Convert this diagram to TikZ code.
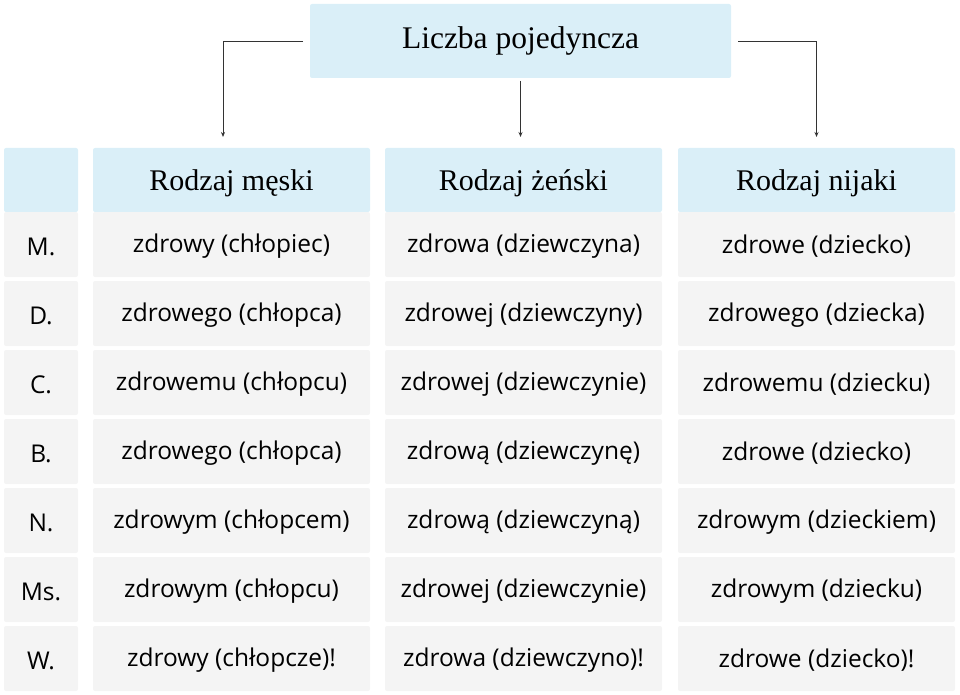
\documentclass[tikz,border=0pt]{standalone}
\usepackage{fontspec}
\setmainfont{Open Sans}
\newfontfamily\headfont{Liberation Serif}
\usetikzlibrary{arrows.meta}
\definecolor{hblue}{HTML}{DAEFF8}
\definecolor{cgray}{HTML}{F4F4F4}
\definecolor{lgray}{HTML}{333333}
\newcommand{\hdtext}[1]{\raisebox{-3.5pt}[\height][\depth]{#1}}
\newcommand{\rwtext}[1]{\raisebox{-2pt}[\height][\depth]{#1}}
\begin{document}
\begin{tikzpicture}[x=1pt,y=-1pt,
  box/.style={anchor=north west, rounded corners=2pt, inner sep=0pt, outer sep=0pt, align=center},
  hcell/.style={box, fill=hblue, font=\headfont\fontsize{30}{34}\selectfont},
  gcell/.style={box, fill=cgray, font=\fontsize{24.5}{28}\selectfont, text=black},
  conn/.style={draw=lgray, line width=0.9pt, -{Stealth[length=5pt,width=4pt]}}
]
\useasboundingbox (0,0) rectangle (960,695);
% title
\node[hcell, minimum width=421pt, minimum height=74pt, font=\headfont\fontsize{31.5}{34}\selectfont] (title) at (310,4) {Liczba pojedyncza};
% headers
\node[hcell, minimum width=74pt, minimum height=64pt] (h0) at (4,148) {};
\node[hcell, minimum width=277pt, minimum height=64pt] (h1) at (93,148) {\hdtext{Rodzaj męski}};
\node[hcell, minimum width=277pt, minimum height=64pt] (h2) at (385,148) {\hdtext{Rodzaj żeński}};
\node[hcell, minimum width=277pt, minimum height=64pt] (h3) at (678,148) {\hdtext{Rodzaj nijaki}};
% rows
\foreach \y/\c/\a/\b/\d [count=\i] in {
  212/M./zdrowy (chłopiec)/zdrowa (dziewczyna)/zdrowe (dziecko),
  281/D./zdrowego (chłopca)/zdrowej (dziewczyny)/zdrowego (dziecka),
  350/C./zdrowemu (chłopcu)/zdrowej (dziewczynie)/zdrowemu (dziecku),
  419/B./zdrowego (chłopca)/zdrową (dziewczynę)/zdrowe (dziecko),
  488/N./zdrowym (chłopcem)/zdrową (dziewczyną)/zdrowym (dzieckiem),
  557/Ms./zdrowym (chłopcu)/zdrowej (dziewczynie)/zdrowym (dziecku),
  626/W./zdrowy (chłopcze)!/zdrowa (dziewczyno)!/zdrowe (dziecko)!}{
  \node[gcell, minimum width=74pt, minimum height=65pt] (r\i c0) at (4,\y) {\rwtext{\c}};
  \node[gcell, minimum width=277pt, minimum height=65pt] (r\i c1) at (93,\y) {\rwtext{\a}};
  \node[gcell, minimum width=277pt, minimum height=65pt] (r\i c2) at (385,\y) {\rwtext{\b}};
  \node[gcell, minimum width=277pt, minimum height=65pt] (r\i c3) at (678,\y) {\rwtext{\d}};
}
% connectors
\coordinate (lstart) at ([xshift=-7pt]title.west);
\coordinate (lend) at ([xshift=-8.5pt,yshift=11pt]h1.north);
\coordinate (rstart) at ([xshift=7pt]title.east);
\coordinate (rend) at ([yshift=11pt]h3.north);
\coordinate (mstart) at ([yshift=-3pt]title.south);
\coordinate (mend) at ([yshift=11pt]title.south |- h2.north);
\draw[conn] (lstart) -| (lend);
\draw[conn] (rstart) -| (rend);
\draw[conn] (mstart) -- (mend);
\end{tikzpicture}
\end{document}
